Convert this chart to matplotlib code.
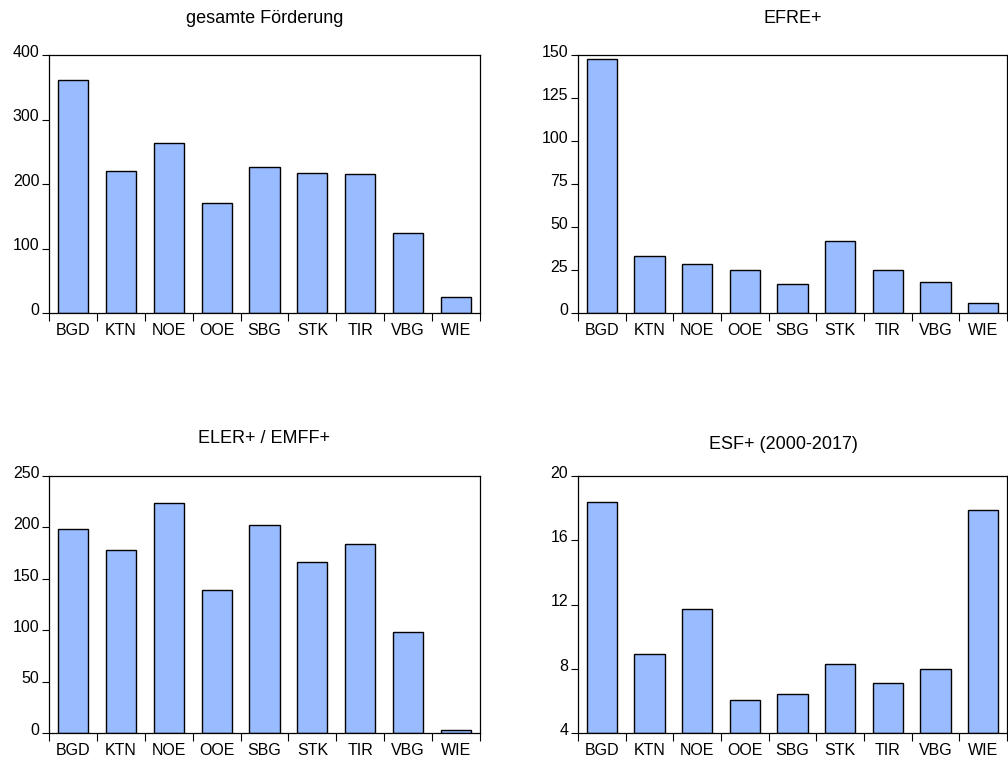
import numpy as np
import matplotlib.pyplot as plt
import matplotlib.transforms as mtransforms

plt.rcParams['font.family'] = ['Liberation Sans', 'DejaVu Sans']

# --- DATA ---
REGIONS = ["BGD", "KTN", "NOE", "OOE", "SBG", "STK", "TIR", "VBG", "WIE"]

gesamt = [362, 220, 263, 170, 226, 216.5, 215, 124, 25]
efre = [147.7, 33.3, 28.3, 24.8, 17.1, 41.9, 25.2, 18.2, 5.8]
eler = [198.6, 178.5, 224, 138.7, 202.8, 166.2, 183.4, 98, 2.9]
esf = [18.41, 8.89, 11.74, 6.07, 6.44, 8.28, 7.13, 8.0, 17.89]

TITLES = ["gesamte Förderung", "EFRE+", "ELER+ / EMFF+", "ESF+ (2000-2017)"]
YTICKS = [[0, 100, 200, 300, 400],
          [0, 25, 50, 75, 100, 125, 150],
          [0, 50, 100, 150, 200, 250],
          [4, 8, 12, 16, 20]]

BAR_COLOR = '#99bbff'

W, H = 1008, 760
fig = plt.figure(figsize=(W / 100, H / 100), dpi=100)


def px_axes(left, top, right, bottom):
    return fig.add_axes([left / W, 1 - bottom / H, (right - left) / W, (bottom - top) / H])


boxes = [(49, 55, 480, 313),
         (578, 55, 1007, 313),
         (49, 476, 480, 733),
         (578, 476, 1007, 733)]
title_pads = [23, 23, 24, 19.5]
title_x = [0.5, 0.5, 0.5, 0.48]

series = [gesamt, efre, eler, esf]
x = np.arange(len(REGIONS))

for i, (box, vals, title, yt) in enumerate(zip(boxes, series, TITLES, YTICKS)):
    ax = px_axes(*box)
    base = yt[0]
    ax.bar(x, np.array(vals) - base, bottom=base, width=0.63,
           color=BAR_COLOR, edgecolor='black', linewidth=1.0)
    ax.set_xlim(-0.5, len(REGIONS) - 0.5)
    ax.set_ylim(yt[0], yt[-1])

    # y axis: ticks outside, labels sit slightly above the tick
    ax.set_yticks(yt)
    ax.tick_params(axis='y', direction='out', length=5, width=0.8,
                   labelsize=11.5, pad=2)
    offset = mtransforms.ScaledTranslation(0, 3 / 72, fig.dpi_scale_trans)
    for lbl in ax.get_yticklabels():
        lbl.set_transform(lbl.get_transform() + offset)

    # x axis: category labels centred, tick marks at the boundaries
    ax.set_xticks(x)
    ax.set_xticklabels(REGIONS)
    ax.tick_params(axis='x', which='major', length=0, labelsize=11.5, pad=7)
    ax.set_xticks(np.arange(-0.5, len(REGIONS)), minor=True)
    ax.tick_params(axis='x', which='minor', direction='out', length=6, width=0.8)

    for sp in ax.spines.values():
        sp.set_linewidth(0.9)

    ax.set_title(title, fontsize=13, pad=title_pads[i], x=title_x[i])

fig.savefig("out.png", dpi=100)
